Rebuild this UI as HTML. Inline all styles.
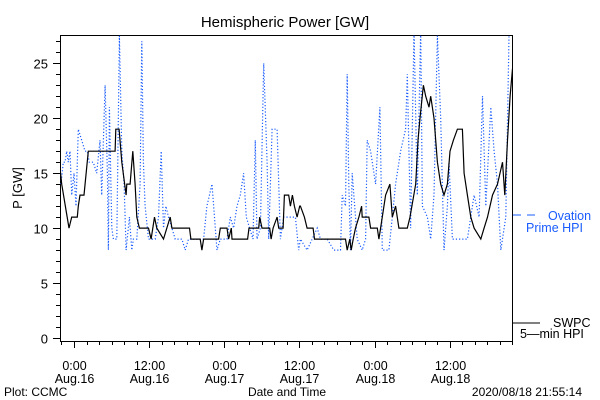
<!DOCTYPE html>
<html><head><meta charset="utf-8"><style>
html,body{margin:0;padding:0;background:#fff;}
svg{display:block;font-family:"Liberation Sans",sans-serif;}
</style></head><body>
<svg id="chart" width="600" height="400">
<text x="285" y="27" font-size="15" text-anchor="middle">Hemispheric Power [GW]</text>
<text x="0" y="0" font-size="13" text-anchor="middle" transform="translate(22,188) rotate(-90)">P [GW]</text>
<text x="4" y="396" font-size="12">Plot: CCMC</text>
<text x="287" y="396" font-size="12" text-anchor="middle">Date and Time</text>
<text x="582" y="396" font-size="12" text-anchor="end">2020/08/18 21:55:14</text>
<g>
<line x1="513" y1="215" x2="521" y2="215" stroke="#1a5cff" stroke-width="1"/>
<line x1="527" y1="215" x2="535" y2="215" stroke="#1a5cff" stroke-width="1"/>
<text x="548" y="220" font-size="12.5" fill="#1a5cff">Ovation</text>
<text x="526" y="232" font-size="12.5" fill="#1a5cff">Prime HPI</text>
</g>
<g>
<line x1="513" y1="323" x2="540" y2="323" stroke="#000" stroke-width="1"/>
<text x="553" y="327" font-size="12.5">SWPC</text>
<text x="520" y="338" font-size="12.5">5—min HPI</text>
</g>
<g id="axes"></g>
<g id="series"></g>
</svg>
<script>
const blackHours=[-2.24,-1.97,-0.8,-0.37,0.53,0.69,0.96,1.6,2.29,6.56,6.67,7.2,7.63,8.32,8.43,8.96,9.39,9.76,10.03,10.45,11.89,12.32,12.85,13.23,14.29,15.36,15.63,18.45,18.67,20.16,20.43,20.69,23.09,23.36,24.43,24.69,25.12,25.23,27.73,27.95,29.49,29.65,30.03,31.25,31.47,31.79,32.43,32.69,33.39,33.6,34.29,34.56,34.88,35.2,35.63,36.05,36.16,36.8,37.23,38.19,38.4,43.36,43.63,44.05,44.27,44.59,44.96,45.49,45.92,46.03,47.09,47.36,48.43,48.69,48.96,49.76,50.45,50.83,51.36,51.89,53.23,53.65,54.56,54.93,55.25,55.79,56.16,56.69,56.96,57.49,58.03,58.56,59.09,59.63,60.05,60.59,61.23,62.03,62.29,62.83,63.36,63.89,64.96,65.49,66.03,66.83,67.63,68.43,68.8,69.23,69.65,70.03];
const blackValues=[15.5,14,10,11,11,12,13,13,17,17,19,19,16,13,14,14,17,14,11,10,10,9,11,10,9,11,10,10,9,9,8,9,9,10,10,9,10,9,9,10,10,11,10,10,9,10,11,10,10,13,13,12,13,12,11,12,12,11,10,10,9,9,8,9,8,9,10,11,12,11,11,10,10,9,10,13,14,11,12,10,10,11,14,18,20,23,22,21,22,20,16,14,13,14,17,18,19,19,15,13,11,10,9,10,11,13,14,16,13,18,22,24.5];
const blueHours=[-2.08,-1.71,-1.44,-1.17,-0.91,-0.64,-0.37,0,0.32,0.69,1.23,1.76,2.13,2.45,3.09,3.63,4.16,4.43,4.96,5.33,5.49,5.65,6.03,6.29,6.83,7.25,7.63,8,8.32,8.85,9.23,9.49,10.03,10.56,10.83,11.09,11.36,11.89,12.43,12.96,13.49,13.92,14.29,14.67,15.09,15.63,16.16,17.23,17.76,18.29,19.09,20.16,20.69,21.23,22.03,22.56,22.83,23.36,24.43,24.96,25.49,26.03,26.56,27.09,27.52,28.05,28.59,28.96,29.23,29.76,30.29,30.83,31.09,31.63,32.43,32.96,33.49,34.56,35.36,35.89,36.16,37.23,38.83,39.36,40.43,41.49,42.56,42.83,43.36,43.63,43.89,44.16,44.43,45.23,46.03,46.56,46.83,47.36,48.16,48.85,49.23,50.29,50.83,51.36,52.16,52.96,53.23,53.76,54.29,54.83,55.36,55.63,56.43,56.96,57.49,58.03,58.56,59.09,59.63,59.89,60.43,61.23,62.83,63.89,64.69,65.23,65.76,66.56,67.09,67.63,68.16,68.96,69.49];
const blueValues=[14,16,16,17,16,17,13,15,12,19,18,17,17,16,16,15,18,13,23,15,8,21,10,9,9,27.5,17,14,8,11,8,9,9,14,27,16,12,9,9,9,11,17,10,12,11,10,9,9,8,9,9,9,9,12,14,10,8,9,9,11,10,12,13,15,11,10,9,18,9,10,25,16,9,19,19,9,11,11,11,8,9,8,10,9,9,8,8,13,12,24,14,8,15,9,8,9,18,17,14,21,8,8,11,14,17,19,24,10,28,13,28,12,11,9,13,27.5,20,8,12,16,9,9,9,13,11,22,12,21,17,14,8,11,28];
const yTickLabels=["0","5","10","15","20","25"];
const xTickLabels=[["0:00","Aug.16"],["12:00","Aug.16"],["0:00","Aug.17"],["12:00","Aug.17"],["0:00","Aug.18"],["12:00","Aug.18"]];

const L=60,R=512,T=35,B=341;
const hMin=-2.24,hMax=70.1;
function xs(h){return 74+(h)*6.262;}
function ys(v){return 338-v*10.99;}
const NS="http://www.w3.org/2000/svg";
const axes=document.getElementById('axes');
const ser=document.getElementById('series');
function mk(tag,attrs,parent){const e=document.createElementNS(NS,tag);for(const k in attrs)e.setAttribute(k,attrs[k]);parent.appendChild(e);return e;}

const frame=mk('rect',{x:L+0.5,y:T+0.5,width:R-L,height:B-T,fill:'none',stroke:'#000','stroke-width':1},axes);



for(let v=0;v<=27;v++){
  const y=Math.round(ys(v))+0.5;
  const major=(v%5===0);
  const t=mk('line',{x1:L-(major?7:4),x2:L,y1:y,y2:y,stroke:'#000'},axes);
  
  
  if(major){
    const lb=mk('text',{x:L-12,y:y+5,'font-size':13,'text-anchor':'end'},axes);
    lb.textContent=yTickLabels[v/5];
    
    
  }
}
for(let h=-2;h<=70;h+=2){
  const x=Math.round(xs(h))+0.5;
  const major=(h%12===0);
  const t=mk('line',{x1:x,x2:x,y1:B,y2:B+(major?7:4),stroke:'#000'},axes);
  
  
  if(major&&h>=0&&h/12<xTickLabels.length){
    const pair=xTickLabels[h/12];
    const a=mk('text',{x:x,y:370,'font-size':12.5,'text-anchor':'middle'},axes);
    a.textContent=pair[0];
    
    
    const b=mk('text',{x:x,y:383,'font-size':12.5,'text-anchor':'middle'},axes);
    b.textContent=pair[1];
    
    
  }
}
const defs=mk('defs',{},ser);
const cp=mk('clipPath',{id:'clip'},defs);
mk('rect',{x:L,y:T,width:R-L,height:B-T},cp);
function pts(hs,vs){return hs.map((h,i)=>xs(h).toFixed(1)+','+ys(vs[i]).toFixed(1)).join(' ');}
const blue=mk('polyline',{points:pts(blueHours,blueValues),fill:'none',stroke:'#1a5cff','stroke-width':1.2,'stroke-dasharray':'1.2,2','clip-path':'url(#clip)'},ser);


const black=mk('polyline',{points:pts(blackHours,blackValues),fill:'none',stroke:'#000','stroke-width':1.2,'clip-path':'url(#clip)'},ser);


</script>
</body></html>
